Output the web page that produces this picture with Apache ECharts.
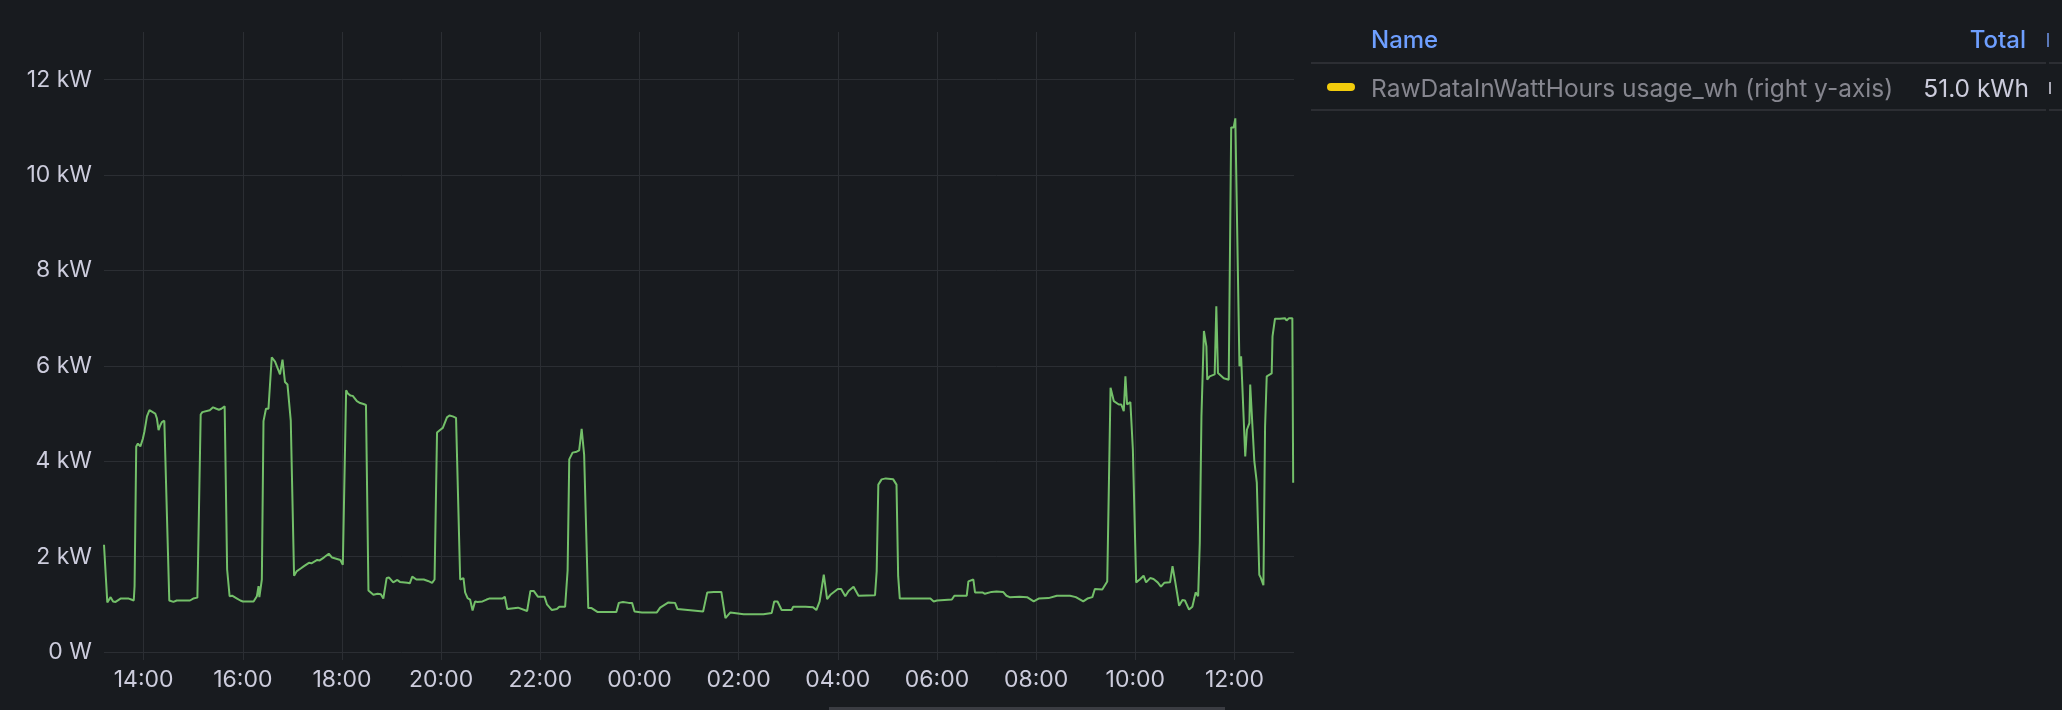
<!DOCTYPE html>
<html>
<head>
<meta charset="utf-8">
<script src="https://cdn.jsdelivr.net/npm/echarts@6/dist/echarts.min.js"></script>
<style>
html,body{margin:0;padding:0;background:#181b1f;}
#chart{width:2062px;height:710px;}
</style>
</head>
<body>
<div id="chart"></div>
<script>
// ---- data ----
const timeLabels = [
"13:12","13:16","13:17","13:20","13:23","13:26","13:32","13:42","13:45","13:47","13:48","13:49","13:51","13:53","13:56","13:59",
"14:01","14:04","14:07","14:09","14:11","14:14","14:16","14:18","14:20","14:22","14:25","14:27","14:31","14:36","14:40","14:56","14:58",
"15:00","15:05","15:09","15:11","15:13","15:20","15:24","15:28","15:31","15:34","15:36","15:38","15:40","15:41","15:44","15:47","15:49","15:53","15:57",
"16:00","16:13","16:15","16:17","16:19","16:20","16:23","16:25","16:28","16:31","16:35","16:39","16:45","16:48","16:51","16:54","16:58",
"17:02","17:05","17:10","17:14","17:20","17:23","17:30","17:33","17:38","17:44","17:48","17:54","17:58",
"18:01","18:05","18:07","18:10","18:13","18:18","18:22","18:26","18:29","18:32","18:38","18:43","18:47","18:50","18:54","18:57",
"19:02","19:07","19:10","19:19","19:22","19:25","19:30","19:39","19:44","19:49","19:52","19:55","19:59",
"20:02","20:07","20:10","20:14","20:18","20:20","20:23","20:27","20:29","20:32","20:35","20:38","20:41","20:44","20:50","20:55","20:58",
"21:14","21:17","21:20","21:33","21:44","21:48","21:52","21:57",
"22:05","22:08","22:14","22:20","22:23","22:30","22:33","22:35","22:39","22:44","22:47","22:50","22:53","22:58",
"23:02","23:09","23:32","23:35","23:40","23:47","23:51","23:54",
"00:03","00:21","00:25","00:35","00:43","00:46",
"01:17","01:22","01:30","01:39","01:44","01:50",
"02:06","02:30","02:40","02:43","02:47","02:52",
"03:04","03:06","03:21","03:30","03:34","03:38","03:43","03:47","03:51",
"04:00","04:04","04:09","04:13","04:19","04:25","04:45","04:47","04:49","04:53","04:58",
"05:07","05:11","05:13","05:15","05:52","05:56",
"06:00","06:18","06:21","06:36","06:38","06:44","06:46","06:55","06:58",
"07:06","07:12","07:20","07:24","07:28","07:40","07:49","07:57",
"08:03","08:15","08:25","08:41","08:48","08:57",
"09:02","09:08","09:11","09:20","09:26","09:30","09:34","09:40","09:43","09:46","09:48","09:50","09:54","09:57",
"10:01","10:06","10:10","10:13","10:18","10:22","10:27","10:29","10:31","10:35","10:42","10:45","10:48","10:53","10:57",
"11:00","11:05","11:09","11:13","11:16","11:18","11:20","11:23","11:26","11:27","11:30","11:36","11:38","11:40","11:47","11:53","11:56","11:59",
"12:01","12:06","12:08","12:13","12:15","12:18","12:19","12:24","12:27","12:30","12:32","12:35","12:37","12:39","12:45","12:46","12:49","12:55",
"13:01","13:03","13:06","13:10","13:11"
];
const usageKw = [
2.25,1.04,1.02,1.15,1.06,1.05,1.12,1.12,1.10,1.07,1.08,1.38,4.31,4.37,4.31,4.47,
4.63,4.94,5.07,5.03,5.03,5.00,4.90,4.65,4.75,4.82,4.85,4.82,1.08,1.05,1.08,1.08,1.10,
1.12,1.14,4.98,5.03,5.05,5.07,5.13,5.10,5.08,5.10,5.13,5.15,5.17,1.73,1.17,1.18,1.15,1.12,1.08,
1.06,1.06,1.10,1.17,1.38,1.15,1.52,4.84,5.10,5.10,6.18,6.09,5.82,6.13,5.66,5.61,4.85,
1.60,1.69,1.75,1.80,1.87,1.86,1.93,1.92,1.98,2.06,1.98,1.95,1.93,
1.83,5.49,5.42,5.38,5.37,5.26,5.22,5.20,5.18,1.29,1.20,1.22,1.21,1.12,1.55,1.56,
1.46,1.51,1.47,1.45,1.44,1.58,1.52,1.52,1.49,1.45,1.52,4.60,4.66,
4.70,4.92,4.96,4.94,4.91,4.91,1.52,1.55,1.25,1.13,1.10,0.87,1.06,1.05,1.06,1.10,1.12,
1.12,1.16,0.90,0.93,0.86,1.28,1.28,1.16,
1.16,1.00,0.88,0.90,0.95,0.95,1.71,4.04,4.18,4.20,4.23,4.68,4.14,0.92,
0.92,0.84,0.84,1.03,1.05,1.03,1.03,0.85,
0.83,0.83,0.93,1.04,1.03,0.90,
0.85,1.25,1.26,1.26,0.71,0.83,
0.79,0.79,0.82,1.06,1.06,0.88,
0.88,0.95,0.95,0.94,0.88,1.06,1.62,1.11,1.20,
1.32,1.32,1.17,1.28,1.37,1.18,1.19,1.69,3.51,3.62,3.64,
3.62,3.51,1.59,1.12,1.12,1.06,
1.08,1.10,1.18,1.18,1.48,1.52,1.25,1.25,1.22,
1.26,1.27,1.26,1.18,1.15,1.16,1.15,1.06,
1.12,1.13,1.18,1.18,1.15,1.06,
1.12,1.15,1.32,1.31,1.48,5.54,5.26,5.19,5.19,5.05,5.78,5.19,5.24,4.25,
1.46,1.53,1.60,1.46,1.55,1.53,1.46,1.48,1.37,1.45,1.46,1.80,1.50,0.97,1.09,
1.08,0.89,0.95,1.25,1.17,2.29,4.94,6.73,6.41,5.71,5.78,5.82,7.25,5.85,5.74,5.71,11.00,11.00,
11.19,5.99,6.20,4.10,4.66,4.80,5.61,4.00,3.55,1.62,1.55,1.40,4.73,5.78,5.84,6.62,6.99,6.99,
7.00,6.95,7.00,7.00,3.55
];
const xTickLabels = ["14:00","16:00","18:00","20:00","22:00","00:00","02:00","04:00","06:00","08:00","10:00","12:00"];
const rangeStart = "13:12";     // left edge of the 24 h window
const rangeHours = 24;
const yMaxKw = 13;
const yStepKw = 2;
const seriesName = "usage";
const legendHeaders = ["Name", "Total"];
const legendRowName = "RawDataInWattHours usage_wh (right y-axis)";
const legendRowTotal = "51.0 kWh";

// ---- minutes since midnight of day 1, wrapping past midnight ----
function toMinutes(t) { const p = t.split(':').map(Number); return p[0] * 60 + p[1]; }
function toAxisMinutes(list) {
  let off = 0, prev = -1;
  return list.map(t => {
    const raw = toMinutes(t);
    if (raw < prev) off += 1440;
    prev = raw;
    return raw + off;
  });
}
const xs = toAxisMinutes(timeLabels);
const seriesData = xs.map((x, i) => [x, usageKw[i]]);
const tickValues = toAxisMinutes([rangeStart].concat(xTickLabels)).slice(1);
const xMin = toMinutes(rangeStart);
const xMax = xMin + rangeHours * 60;
function fmtClock(v) {
  const m = Math.round(v) % 1440;
  const h = Math.floor(m / 60), mm = m % 60;
  return (h < 10 ? '0' : '') + h + ':' + (mm < 10 ? '0' : '') + mm;
}

const FONT = 'Inter';
const gridColor = '#2b2e33';
const tickText = '#ccccdc';

const chart = echarts.init(document.getElementById('chart'), null, { renderer: 'canvas' });
chart.setOption({
  backgroundColor: '#181b1f',
  animation: false,
  textStyle: { fontFamily: FONT },
  grid: { left: 104, right: 768, top: 32, bottom: 58, containLabel: false },
  xAxis: {
    type: 'value',
    min: xMin,
    max: xMax,
    axisLine: { show: false },
    axisTick: { show: true, length: 8, customValues: tickValues, lineStyle: { color: gridColor, width: 1 } },
    splitLine: { show: true, lineStyle: { color: gridColor, width: 1 } },
    axisLabel: {
      customValues: tickValues,
      formatter: fmtClock,
      color: tickText, fontSize: 23, fontFamily: FONT, margin: 17
    }
  },
  yAxis: {
    type: 'value',
    min: 0,
    max: yMaxKw,
    interval: yStepKw,
    axisLine: { show: false },
    axisTick: { show: false },
    splitLine: { show: true, showMaxLine: false, lineStyle: { color: gridColor, width: 1 } },
    axisLabel: {
      formatter: v => (v === yMaxKw ? '' : (v === 0 ? '0 W' : v + ' kW')),
      showMaxLabel: false,
      color: tickText, fontSize: 23, fontFamily: FONT, margin: 12
    }
  },
  series: [{
    name: seriesName,
    type: 'line',
    data: seriesData,
    showSymbol: false,
    symbol: 'none',
    lineStyle: { color: '#73bf69', width: 2 },
    itemStyle: { color: '#73bf69' },
    z: 5
  }],
  graphic: [
    { type: 'text', left: 1371, top: 29, style: { text: legendHeaders[0], fill: '#6e9fff', font: '500 24px Inter' } },
    { type: 'text', right: 2062 - 2026, top: 29, style: { text: legendHeaders[1], fill: '#6e9fff', font: '500 24px Inter', textAlign: 'right' } },
    { type: 'rect', shape: { x: 2047, y: 33, width: 2, height: 14 }, style: { fill: '#5a78b8' } },
    { type: 'rect', shape: { x: 1311, y: 62, width: 735, height: 2 }, style: { fill: '#2c2e33' } },
    { type: 'rect', shape: { x: 2049, y: 62, width: 13, height: 2 }, style: { fill: '#2c2e33' } },
    { type: 'rect', shape: { x: 1327, y: 83, width: 28, height: 8, r: 4 }, style: { fill: '#f2cc0c' } },
    { type: 'text', left: 1371, top: 77, style: { text: legendRowName, fill: '#86868f', font: '24.5px Inter' } },
    { type: 'text', right: 2062 - 2029, top: 77, style: { text: legendRowTotal, fill: '#ccccdc', font: '24.5px Inter', textAlign: 'right' } },
    { type: 'rect', shape: { x: 2049, y: 82, width: 2, height: 12 }, style: { fill: '#a9a9b6' } },
    { type: 'rect', shape: { x: 1311, y: 109, width: 735, height: 2 }, style: { fill: '#2c2e33' } },
    { type: 'rect', shape: { x: 2049, y: 109, width: 13, height: 2 }, style: { fill: '#2c2e33' } },
    { type: 'rect', shape: { x: 829, y: 707, width: 396, height: 3 }, style: { fill: '#3a3c42' } }
  ]
});
</script>
</body>
</html>
